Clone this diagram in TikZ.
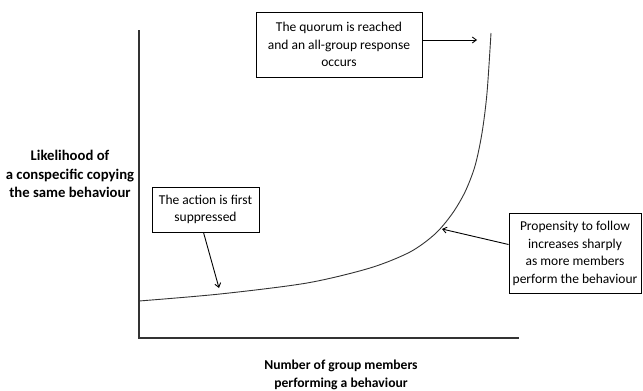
\documentclass[tikz,border=0pt]{standalone}
\usepackage{fontspec}
\setmainfont{Carlito}
\usetikzlibrary{arrows.meta}
\begin{document}
\begin{tikzpicture}[x=1pt,y=-1pt,
  txtbox/.style={draw,line width=0.9pt,align=center,inner sep=0pt,font=\fontsize{13.5}{17.5}\selectfont},
  axislabel/.style={align=center,font=\fontsize{13.6}{17.5}\selectfont\bfseries},
  axisline/.style={line width=1.3pt,draw=black!80},
  pointer/.style={line width=0.9pt,-{Straight Barb[length=4pt,width=6pt]}},
  curveline/.style={line width=0.9pt,draw=black!80}]
\useasboundingbox (0,0) rectangle (643,391);
% axes
\coordinate (origin) at (139,338);
\coordinate (ytop) at (139,30);
\coordinate (xend) at (519,338);
\draw[axisline] (ytop) -- (origin) -- (xend);
% curve
\draw[curveline] plot[smooth,tension=0.5] coordinates {(139,301) (220,294) (307,283) (370,268) (410,252) (435,234) (452,214) (465,192) (475,166) (482,133) (487,93) (491,33)};
% labels
\node[axislabel,font=\fontsize{14.7}{18.5}\selectfont\bfseries] (ylab) at (70,174) {Likelihood of\\a conspecific copying\\the same behaviour};
\node[axislabel] (xlab) at (341,375) {Number of group members\\performing a behaviour};
% boxes
\node[txtbox,minimum width=166pt,minimum height=65pt] (q) at (339,44.5) {The quorum is reached\\and an all-group response\\occurs};
\node[txtbox,minimum width=107pt,minimum height=45pt] (a) at (205.5,209.5) {The action is first\\suppressed};
\node[txtbox,minimum width=132pt,minimum height=80pt] (p) at (575,253.5) {Propensity to follow\\increases sharply\\as more members\\perform the behaviour};
% pointers
\coordinate (qa) at (477,40);
\coordinate (aa) at (219,288);
\coordinate (pa) at (442,229);
\draw[pointer] (q.east |- qa) -- (qa);
\draw[pointer] ([xshift=-2pt]a.south) -- (aa);
\draw[pointer] ([yshift=9pt]p.west) -- (pa);
\end{tikzpicture}
\end{document}
